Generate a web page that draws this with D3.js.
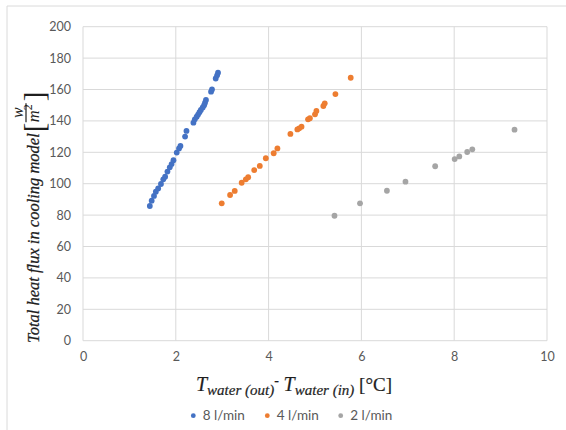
<!DOCTYPE html>
<html>
<head>
<meta charset="utf-8">
<script src="https://cdn.jsdelivr.net/npm/d3@7"></script>
<style>
  html, body { margin: 0; padding: 0; background: #fff; }
  svg { display: block; }
</style>
</head>
<body>
<svg id="chart" width="566" height="430"></svg>
<script>
// Temperature rise across the cooling model (°C) vs. total heat flux (W/m²), per flow rate
const flow8X = [1.44, 1.48, 1.53, 1.57, 1.62, 1.68, 1.73, 1.77, 1.82, 1.87, 1.91, 1.95, 2.02, 2.07, 2.10,
                2.20, 2.23, 2.38, 2.41, 2.45, 2.48, 2.51, 2.54, 2.58, 2.61, 2.63, 2.65, 2.76, 2.78, 2.86, 2.89, 2.91];
const flow8Y = [85.8, 89.2, 92.2, 94.9, 97.0, 99.8, 102.8, 104.5, 107.7, 110.4, 112.5, 115.0, 119.8, 122.5, 124.0,
                130.0, 133.6, 138.9, 141.0, 142.7, 144.0, 145.5, 147.0, 148.6, 150.0, 151.6, 153.3, 158.6, 160.0, 167.0, 169.0, 170.7];
const flow4X = [2.99, 3.17, 3.27, 3.42, 3.51, 3.56, 3.69, 3.81, 3.94, 4.11, 4.19, 4.47, 4.62, 4.66, 4.71,
                4.85, 4.89, 5.00, 5.03, 5.18, 5.21, 5.44, 5.77];
const flow4Y = [87.5, 92.8, 95.4, 100.6, 102.8, 104.1, 108.7, 111.3, 116.2, 119.4, 122.5, 131.7, 134.6, 135.3, 136.3,
                141.0, 141.7, 144.2, 146.3, 149.5, 151.2, 157.1, 167.5];
const flow2X = [5.42, 5.97, 6.55, 6.95, 7.59, 8.01, 8.11, 8.28, 8.39, 9.30];
const flow2Y = [79.6, 87.5, 95.5, 101.3, 111.1, 115.7, 117.4, 120.2, 121.9, 134.4];

const seriesNames = ["8 l/min", "4 l/min", "2 l/min"];
const seriesColors = ["#4472C4", "#ED7D31", "#A5A5A5"];
const xTicks = [0, 2, 4, 6, 8, 10];
const yTicks = [0, 20, 40, 60, 80, 100, 120, 140, 160, 180, 200];

const series = [
  { name: seriesNames[0], color: seriesColors[0], pts: flow8X.map((x, i) => [x, flow8Y[i]]) },
  { name: seriesNames[1], color: seriesColors[1], pts: flow4X.map((x, i) => [x, flow4Y[i]]) },
  { name: seriesNames[2], color: seriesColors[2], pts: flow2X.map((x, i) => [x, flow2Y[i]]) }
];

const svg = d3.select("#chart");
const W = 566, H = 430;
const plot = { left: 83, right: 547, top: 26.7, bottom: 340.7 };

const x = d3.scaleLinear().domain([0, 10]).range([plot.left, plot.right]);
const y = d3.scaleLinear().domain([0, 200]).range([plot.bottom, plot.top]);

const labelFont = "Lato, 'Open Sans', sans-serif";
const labelColor = "#595959";
const gridColor = "#D9D9D9";

// chart frame (top and left edge)
svg.append("line").attr("x1", 7).attr("x2", W).attr("y1", 6).attr("y2", 6)
  .attr("stroke", "#DADADA").attr("stroke-width", 1);
svg.append("line").attr("x1", 7).attr("x2", 7).attr("y1", 6).attr("y2", H)
  .attr("stroke", "#DADADA").attr("stroke-width", 1);

// gridlines
const grid = svg.append("g");
grid.selectAll("line.h").data(yTicks).join("line")
  .attr("x1", plot.left).attr("x2", plot.right)
  .attr("y1", d => y(d)).attr("y2", d => y(d))
  .attr("stroke", gridColor).attr("stroke-width", 1);
grid.selectAll("line.v").data(xTicks).join("line")
  .attr("y1", plot.top).attr("y2", plot.bottom)
  .attr("x1", d => x(d)).attr("x2", d => x(d))
  .attr("stroke", gridColor).attr("stroke-width", 1);

// axes (labels only; lines come from the grid)
const yAxis = svg.append("g").attr("transform", `translate(${plot.left},0)`)
  .call(d3.axisLeft(y).tickValues(yTicks).tickSize(0).tickPadding(12));
const xAxis = svg.append("g").attr("transform", `translate(0,${plot.bottom})`)
  .call(d3.axisBottom(x).tickValues(xTicks).tickSize(0).tickPadding(11));
[yAxis, xAxis].forEach(a => {
  a.select(".domain").remove();
  a.selectAll("text").attr("fill", labelColor).style("font-family", labelFont).style("font-size", "12.5px");
});

// data points
series.forEach(s => {
  svg.append("g").selectAll("circle").data(s.pts).join("circle")
    .attr("cx", d => x(d[0])).attr("cy", d => y(d[1]))
    .attr("r", 2.9).attr("fill", s.color);
});

// y-axis title: italic serif with bracketed unit fraction
const serif = "'Liberation Serif', 'DejaVu Serif', serif";
const ink = "#1e1e1e";
const yt = svg.append("g").attr("transform", "translate(38.5,343) rotate(-90)")
  .style("font-family", serif).attr("fill", ink);
const ytMain = yt.append("text").attr("x", 0).attr("y", 0)
  .style("font-style", "italic").style("font-size", "16.5px")
  .attr("stroke", ink).attr("stroke-width", 0.25)
  .text("Total heat flux in cooling model ");
const mainLen = ytMain.node().getComputedTextLength();
const bx = mainLen + 1;
yt.append("text").attr("x", bx).attr("y", 5).style("font-size", "29px").text("[");
const fx = bx + 10;
const den = yt.append("text").attr("x", fx).attr("y", 0)
  .style("font-style", "italic").style("font-size", "16.5px");
den.append("tspan").text("m");
den.append("tspan").attr("dy", -7).style("font-size", "12px").style("font-style", "normal").text("2");
const denLen = den.node().getComputedTextLength();
yt.append("line").attr("x1", fx).attr("x2", fx + denLen + 1).attr("y1", -12.5).attr("y2", -12.5)
  .attr("stroke", ink).attr("stroke-width", 1.2);
yt.append("text").attr("x", fx + (denLen + 1) / 2).attr("y", -15.5).attr("text-anchor", "middle")
  .style("font-style", "italic").style("font-size", "16px").text("w");
yt.append("text").attr("x", fx + denLen + 3).attr("y", 5).style("font-size", "29px").text("]");

// x-axis title
const xt = svg.append("text").attr("y", 391).attr("fill", ink)
  .attr("stroke", ink).attr("stroke-width", 0.2)
  .style("font-family", serif);
xt.append("tspan").style("font-style", "italic").style("font-size", "20px").text("T");
xt.append("tspan").attr("dy", 4).style("font-style", "italic").style("font-size", "15px").text("water (out)");
xt.append("tspan").attr("dy", -10).style("font-size", "14px").text("-");
xt.append("tspan").attr("dy", 6).style("font-size", "19px").text(" ");
xt.append("tspan").style("font-style", "italic").style("font-size", "20px").text("T");
xt.append("tspan").attr("dy", 4).style("font-style", "italic").style("font-size", "15px").text("water (in)");
xt.append("tspan").attr("dy", -4).style("font-size", "19px").text(" [°C]");
const xtLen = xt.node().getComputedTextLength();
xt.attr("x", 294 - xtLen / 2);

// legend
const legendX = [193.3, 267.3, 340.7];
const legend = svg.append("g");
series.forEach((s, i) => {
  const g = legend.append("g").attr("transform", `translate(${legendX[i]},415.7)`);
  g.append("circle").attr("r", 2.4).attr("fill", s.color);
  g.append("text").attr("x", 9.5).attr("y", 4.6).attr("fill", labelColor)
    .style("font-family", labelFont).style("font-size", "13.5px").text(s.name);
});
</script>
</body>
</html>
